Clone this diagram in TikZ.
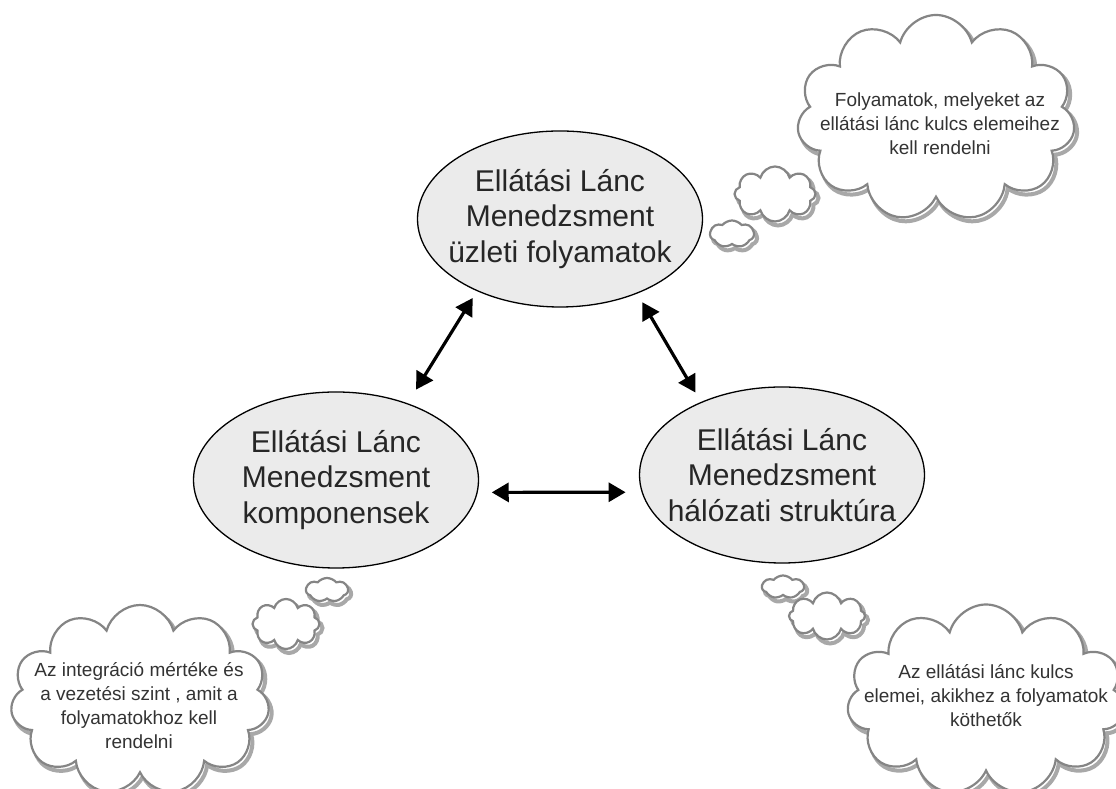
\documentclass[tikz,border=0pt]{standalone}
\usepackage{fontspec}
\setmainfont{Liberation Sans}
\usetikzlibrary{shapes.geometric, shapes.symbols, shadows, arrows.meta}
\definecolor{ovalfill}{HTML}{EBEBEB}
\definecolor{cloudline}{HTML}{858585}
\definecolor{cloudtext}{HTML}{333333}
\definecolor{cloudshade}{HTML}{A8A8A8}

\begin{document}
\begin{tikzpicture}[x=1pt, y=1pt,
  oval/.style={ellipse, draw=black, line width=1.3pt, fill=ovalfill,
    minimum width=285pt, minimum height=176pt, inner xsep=-14pt, inner ysep=0pt,
    align=center, text=black!85, font=\fontsize{30}{35.5}\selectfont},
  cloudbox/.style={cloud, draw=cloudline, line width=2.2pt, fill=white,
    cloud ignores aspect, inner sep=0pt,
    preaction={draw=cloudshade, line width=4pt, transform canvas={shift={(3pt,-4pt)}}}},
  cloudtxt/.style={align=center, text=cloudtext, font=\fontsize{19}{24}\selectfont, inner sep=0pt},
  twoway/.style={{Triangle[length=17pt,width=19pt]}-{Triangle[length=17pt,width=19pt]}, line width=3.2pt}
]

\path[use as bounding box, fill=white] (0,0) rectangle (1116,789);

% gondolatfelhok
\node[cloudbox, cloud puffs=7, cloud puff arc=100, minimum width=44pt, minimum height=27pt] (fentKicsi) at (732,555) {};
\node[cloudbox, cloud puffs=8, minimum width=81pt, minimum height=55pt] (fentKozep) at (775,595) {};
\node[cloudbox, cloud puffs=11, minimum width=278pt, minimum height=206pt] (fentFelho) at (936,671) {};
\node[cloudtxt] (fentSzoveg) at (940,665) {Folyamatok, melyeket az\\ellátási lánc kulcs elemeihez\\kell rendelni};

\node[cloudbox, cloud puffs=7, cloud puff arc=100, minimum width=42pt, minimum height=24pt] (balKicsi) at (327,199) {};
\node[cloudbox, cloud puffs=8, minimum width=67pt, minimum height=50pt] (balKozep) at (286,165) {};
\node[cloudbox, cloud puffs=11, minimum width=259pt, minimum height=190pt] (balFelho) at (140,89) {};
\node[cloudtxt] (balSzoveg) at (139,83) {Az integráció mértéke és\\a vezetési szint , amit a\\folyamatokhoz kell\\rendelni};

\node[cloudbox, cloud puffs=7, cloud puff arc=100, minimum width=42pt, minimum height=23pt] (jobbKicsi) at (783,202) {};
\node[cloudbox, cloud puffs=8, minimum width=76pt, minimum height=47pt] (jobbKozep) at (827,173) {};
\node[cloudbox, cloud puffs=11, minimum width=278pt, minimum height=191pt] (jobbFelho) at (986,89) {};
\node[cloudtxt] (jobbSzoveg) at (986,93) {Az ellátási lánc kulcs\\elemei, akikhez a folyamatok\\köthetők};

% ellipszisek
\node[oval] (folyamatok) at (560,570) {Ellátási Lánc\\Menedzsment\\üzleti folyamatok};
\node[oval] (komponensek) at (336,309) {Ellátási Lánc\\Menedzsment\\komponensek};
\node[oval] (halozat) at (782,314) {Ellátási Lánc\\Menedzsment\\hálózati struktúra};

% nyilak
\draw[twoway, shorten <=16pt, shorten >=8pt] (komponensek.47) -- (folyamatok.221);
\draw[twoway, shorten <=10pt, shorten >=11pt] (folyamatok.316) -- (halozat.138);
\draw[twoway, shorten <=14pt, shorten >=16pt] (komponensek.355) -- (halozat.187);

\end{tikzpicture}
\end{document}
